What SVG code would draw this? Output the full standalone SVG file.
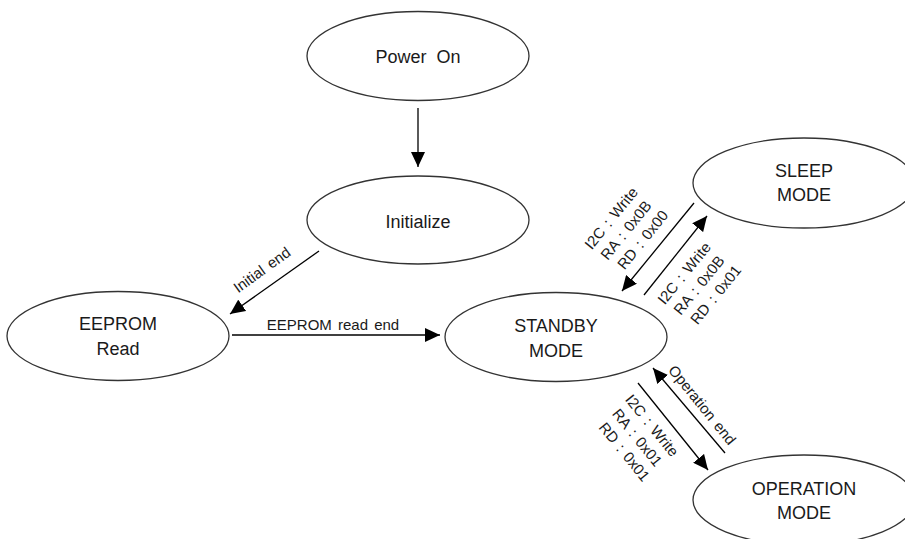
<svg xmlns="http://www.w3.org/2000/svg" width="905" height="539" viewBox="0 0 905 539">
  <defs>
    <marker id="arrow" markerUnits="userSpaceOnUse" markerWidth="16" markerHeight="14" refX="15" refY="7" orient="auto">
      <path d="M0,0 L15,7 L0,14 z" fill="#000"/>
    </marker>
    <style>
      .state ellipse { fill: #fff; stroke: #333; stroke-width: 1.3; }
      .state text { font-family: "Liberation Sans", Arial, sans-serif; font-size: 18px; fill: #1a1a1a; text-anchor: middle; word-spacing: 5px; }
      .edge { stroke: #000; stroke-width: 1.3; fill: none; marker-end: url(#arrow); }
      .lbl { font-family: "Liberation Sans", Arial, sans-serif; font-size: 15px; fill: #1a1a1a; text-anchor: middle; word-spacing: 2px; }
    </style>
  </defs>
  <rect width="905" height="539" fill="#fff"/>

  <!-- states -->
  <g id="power-on" class="state">
    <ellipse cx="418" cy="56" rx="111" ry="44.5"/>
    <text x="418" y="63">Power On</text>
  </g>
  <g id="initialize" class="state">
    <ellipse cx="418" cy="220" rx="111" ry="44"/>
    <text x="418" y="228">Initialize</text>
  </g>
  <g id="eeprom-read" class="state">
    <ellipse cx="118" cy="336" rx="111" ry="44.5"/>
    <text x="118" y="330">EEPROM</text>
    <text x="118" y="355">Read</text>
  </g>
  <g id="standby-mode" class="state">
    <ellipse cx="556" cy="337" rx="111" ry="44.5"/>
    <text x="556" y="332">STANDBY</text>
    <text x="556" y="357">MODE</text>
  </g>
  <g id="sleep-mode" class="state">
    <ellipse cx="804" cy="183" rx="111" ry="45"/>
    <text x="804" y="177">SLEEP</text>
    <text x="804" y="201">MODE</text>
  </g>
  <g id="operation-mode" class="state">
    <ellipse cx="804" cy="500" rx="111" ry="45"/>
    <text x="804" y="495">OPERATION</text>
    <text x="804" y="519">MODE</text>
  </g>

  <!-- transitions -->
  <g id="connectors">
    <line class="edge" x1="418" y1="108" x2="418" y2="167"/>
    <line class="edge" x1="319" y1="251" x2="230" y2="314"/>
    <line class="edge" x1="232" y1="335" x2="440" y2="335"/>
    <line class="edge" x1="694" y1="203" x2="622" y2="291"/>
    <line class="edge" x1="644" y1="295" x2="707" y2="216"/>
    <line class="edge" x1="638" y1="383" x2="708" y2="470"/>
    <line class="edge" x1="725" y1="453" x2="653" y2="368"/>

    <text class="lbl" transform="translate(262,270) rotate(-36)" y="5" word-spacing="5">Initial end</text>
    <text class="lbl" x="333" y="330">EEPROM read end</text>
    <text class="lbl" transform="translate(628,228) rotate(-51)">
      <tspan x="0" y="-14">I2C : Write</tspan>
      <tspan x="0" y="5">RA : 0x0B</tspan>
      <tspan x="0" y="24">RD : 0x00</tspan>
    </text>
    <text class="lbl" transform="translate(701,283) rotate(-51)">
      <tspan x="0" y="-14">I2C : Write</tspan>
      <tspan x="0" y="5">RA : 0x0B</tspan>
      <tspan x="0" y="24">RD : 0x01</tspan>
    </text>
    <text class="lbl" transform="translate(639,440) rotate(51)">
      <tspan x="0" y="-14">I2C : Write</tspan>
      <tspan x="0" y="5">RA : 0x01</tspan>
      <tspan x="0" y="24">RD : 0x01</tspan>
    </text>
    <text class="lbl" transform="translate(702,405) rotate(51)" y="5" word-spacing="6">Operation end</text>
  </g>
</svg>
